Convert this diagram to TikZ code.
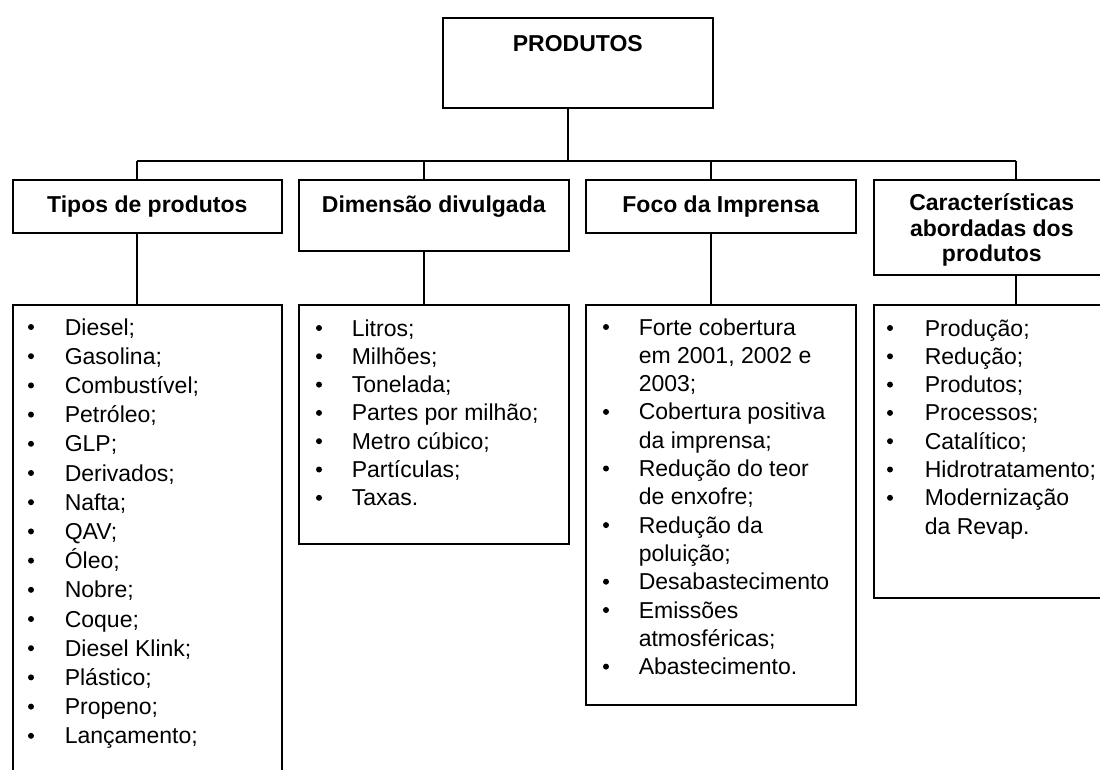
\documentclass[tikz,border=0pt]{standalone}
\usepackage{fontspec}
\setmainfont{Liberation Sans}
\usetikzlibrary{positioning}
\tikzstyle{box}=[draw,inner sep=0pt,anchor=north west]
\tikzstyle{head}=[box,align=center,font=\fontsize{23}{25.5}\selectfont\bfseries]
\tikzstyle{entry}=[anchor=base west,inner sep=0pt,font=\fontsize{23}{28}\selectfont]
\tikzstyle{dot}=[circle,fill,inner sep=0pt,minimum size=6pt]

\begin{document}
\begin{tikzpicture}[x=1pt,y=-1pt,line width=1.6pt]
\useasboundingbox (0,0) rectangle (1100,769);
\clip (0,0) rectangle (1100,769);
% headers
\node [head,minimum width=270pt,text height=34pt,text depth=56pt] (produtos) at (442,17) {PRODUTOS};
\node [head,minimum width=269pt,text height=33pt,text depth=20pt] (tipos) at (12,179) {Tipos de produtos};
\node [head,minimum width=270pt,text height=33pt,text depth=38pt] (dim) at (298,179) {Dimensão divulgada};
\node [head,minimum width=270pt,text height=33pt,text depth=20pt] (foco) at (585,179) {Foco da Imprensa};
\node [head,minimum width=236pt,text height=82pt,text depth=13pt] (carac) at (873,179)
  {Características\\abordadas dos\\produtos};
% list boxes
\node [box,minimum width=269pt,minimum height=500pt] (tipos-list) at (12,304) {};
\node [box,minimum width=270pt,minimum height=239pt] (dim-list) at (298,304) {};
\node [box,minimum width=270pt,minimum height=400pt] (foco-list) at (585,304) {};
\node [box,minimum width=236pt,minimum height=293pt] (carac-list) at (873,304) {};
% connectors
\coordinate (jtop) at (568,161);
\coordinate (jtipos) at (137,161);
\coordinate (jdim) at (424,161);
\coordinate (jfoco) at (711,161);
\coordinate (jcarac) at (1016,161);
\draw (produtos.south -| jtop) -- (jtop);
\draw (jtipos) -- (jcarac);
\foreach \c in {tipos,dim,foco,carac} {
  \draw (j\c) -- (\c.north -| j\c);
  \draw (\c.south -| j\c) -- (\c-list.north -| j\c);
}
% items
\foreach \t [count=\i from 0] in {Diesel;,Gasolina;,Combustível;,Petróleo;,GLP;,Derivados;,Nafta;,QAV;,Óleo;,Nobre;,Coque;,Diesel Klink;,Plástico;,Propeno;,Lançamento;} {
  \node [entry] (tipos-\i) at (64,335+29.2*\i) {\t};
  \node [dot] (tipos-dot-\i) at (31,327+29.2*\i) {};
}
\foreach \t [count=\i from 0] in {Litros;,Milhões;,Tonelada;,Partes por milhão;,Metro cúbico;,Partículas;,Taxas.} {
  \node [entry] (dim-\i) at (351,336+28.3*\i) {\t};
  \node [dot] (dim-dot-\i) at (319,328+28.3*\i) {};
}
\foreach \b/\t [count=\i from 0] in {1/Forte cobertura,0/{em 2001, 2002 e},0/2003;,1/Cobertura positiva,0/da imprensa;,1/Redução do teor,0/de enxofre;,1/Redução da,0/poluição;,1/Desabastecimento,1/Emissões,0/atmosféricas;,1/Abastecimento.} {
  \node [entry] (foco-\i) at (638,335+28.3*\i) {\t};
  \ifnum\b=1 \node [dot] (foco-dot-\i) at (606,327+28.3*\i) {}; \fi
}
\foreach \b/\t [count=\i from 0] in {1/Produção;,1/Redução;,1/Produtos;,1/Processos;,1/Catalítico;,1/Hidrotratamento;,1/Modernização,0/da Revap.} {
  \node [entry] (carac-\i) at (924,336+28.3*\i) {\t};
  \ifnum\b=1 \node [dot] (carac-dot-\i) at (890,328+28.3*\i) {}; \fi
}
\end{tikzpicture}
\end{document}
